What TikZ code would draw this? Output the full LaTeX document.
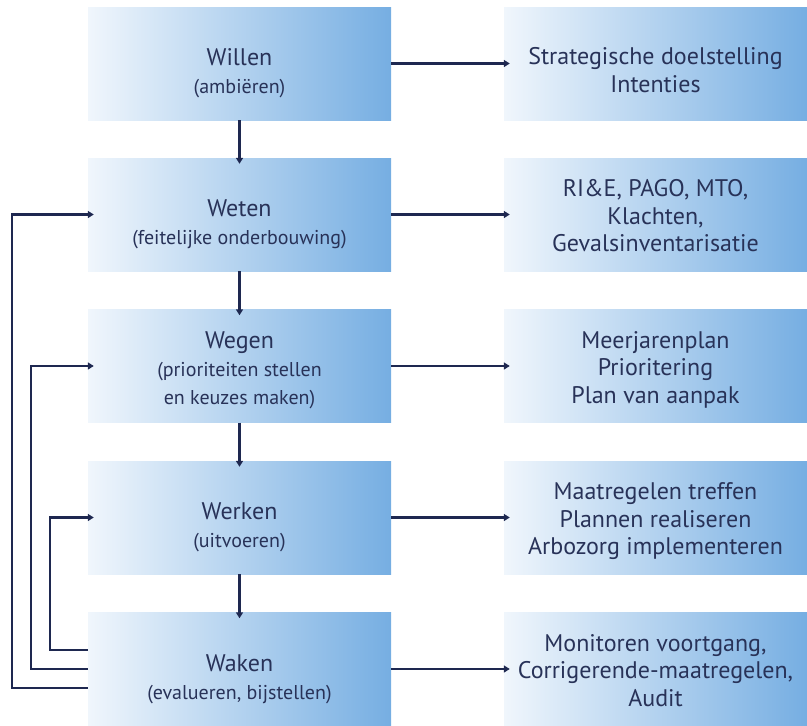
\documentclass[tikz,border=0pt]{standalone}
\usepackage{fontspec}
\setmainfont{PT Sans}
\usetikzlibrary{arrows.meta}
\definecolor{navy}{HTML}{1E2850}
\definecolor{txt}{HTML}{283258}
\definecolor{gl}{HTML}{F0F6FC}
\definecolor{gm}{HTML}{C6DCF2}
\definecolor{gr}{HTML}{76AEE2}
\tikzset{
  box/.style={minimum width=303pt, minimum height=113pt, inner sep=0pt,
    left color=gl, middle color=gm, right color=gr, draw=none,
    text=txt, align=center, font=\fontsize{20}{28}\selectfont},
  rbox/.style={box, font=\fontsize{24}{27.5}\selectfont},
  arr/.style={draw=navy, line width=2.2pt, -{Triangle[length=6pt,width=7pt]}, shorten >=-6pt},
}
\newcommand{\ttl}[1]{{\fontsize{24}{28}\selectfont #1}}
\newcommand{\hs}[1]{\rule{0pt}{#1pt}}
\newcommand{\ds}{\rule[-8pt]{0pt}{8pt}}
\begin{document}
\begin{tikzpicture}[x=1pt,y=-1pt]
\useasboundingbox (0,0) rectangle (807,726);
\node[box] (willen) at (239.5,63.5) {\hs{40}\ttl{Willen}\\(ambiëren)\ds};
\node[box] (weten) at (239.5,214.5) {\hs{40}\ttl{Weten}\\(feitelijke onderbouwing)\ds};
\node[box] (wegen) at (239.5,366) {\hs{28}\ttl{Wegen}\\(prioriteiten stellen\\en keuzes maken)\ds};
\node[box] (werken) at (239.5,517.5) {\hs{40}\ttl{Werken}\\(uitvoeren)\ds};
\node[box] (waken) at (239.5,669) {\hs{40}\ttl{Waken}\\(evalueren, bijstellen)\ds};
\node[rbox] (r1) at (655.5,63.5) {\hs{38}Strategische doelstelling\\Intenties\ds};
\node[rbox] (r2) at (655.5,214.5) {\hs{27}RI\&E, PAGO, MTO,\\Klachten,\\Gevalsinventarisatie\ds};
\node[rbox] (r3) at (655.5,366) {\hs{27}Meerjarenplan\\Prioritering\\Plan van aanpak\ds};
\node[rbox] (r4) at (655.5,517.5) {\hs{27}Maatregelen treffen\\Plannen realiseren\\Arbozorg implementeren\ds};
\node[rbox] (r5) at (655.5,669) {\hs{27}Monitoren voortgang,\\Corrigerende-maatregelen,\\Audit\ds};
\draw[arr] (willen) -- (weten);
\draw[arr] (weten) -- (wegen);
\draw[arr] (wegen) -- (werken);
\draw[arr] (werken) -- (waken);
\draw[arr] (willen) -- (r1);
\draw[arr] (weten) -- (r2);
\draw[arr] (wegen) -- (r3);
\draw[arr] (werken) -- (r4);
\draw[arr] (waken) -- (r5);
\draw[arr] ([yshift=19pt]waken.west) -- ++(-38,0) |- (werken.west);
\draw[arr] (waken.west) -- ++(-57,0) |- (wegen.west);
\draw[arr] ([yshift=-19pt]waken.west) -- ++(-76,0) |- (weten.west);
\end{tikzpicture}
\end{document}
